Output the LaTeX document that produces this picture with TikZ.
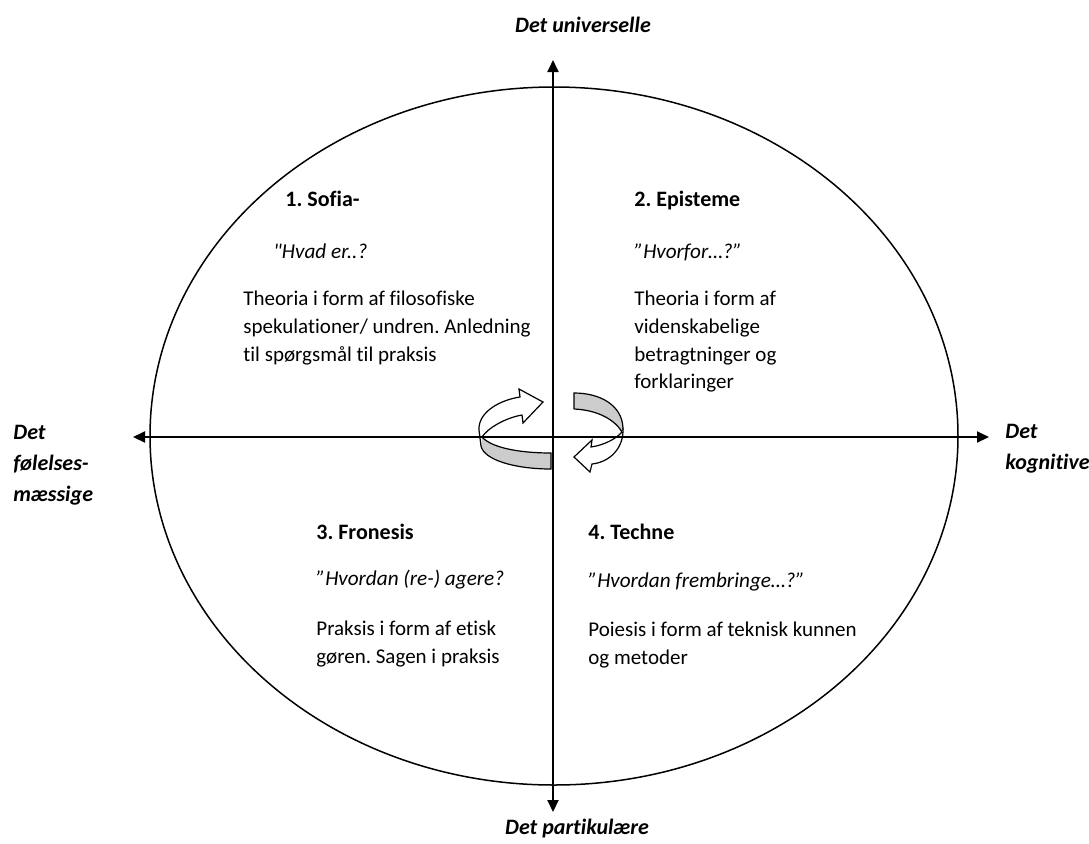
\documentclass[tikz,border=0pt]{standalone}
\usepackage{fontspec}
\setmainfont{Carlito}[Ligatures={TeX,NoCommon}]
\usetikzlibrary{arrows.meta}
\frenchspacing

\begin{document}
\begin{tikzpicture} [
       x=0.5pt, y=-0.5pt,
       titel/.style={anchor=base west, inner sep=0pt, font=\fontsize{11}{13.6}\selectfont\bfseries},
       spoerg/.style={anchor=base west, inner sep=0pt, font=\fontsize{10.6}{13.6}\selectfont\itshape},
       texte/.style={anchor=north west, inner sep=0pt, align=left, font=\fontsize{10.5}{13.8}\selectfont},
       pol/.style={inner sep=0pt, align=left, font=\fontsize{11}{15.5}\selectfont\bfseries\itshape},
       akse/.style={draw, line width=1pt, {Triangle[length=6pt,width=5.5pt]}-{Triangle[length=6pt,width=5.5pt]}},
       baand/.style={draw, line width=0.6pt, fill=black!20},
       pil/.style={draw, line width=0.6pt, fill=white, line join=miter},
       ]
       \useasboundingbox (0,0) rectangle (1089,843);
       % ellipse og akser
       \coordinate (midte) at (554,436);
       \draw[line width=0.75pt] (midte) ellipse [x radius=404, y radius=349];
       \coordinate (venstre) at (133,437);
       \coordinate (hoejre) at (989,437);
       \coordinate (top) at (553,60);
       \coordinate (bund) at (553,812);
       % de to drejende pile
       \path[baand] (482,437) .. controls (492,448) and (520,453) .. (551,453) -- (551,469)
             .. controls (515,469) and (484,460) .. (481,446);
       \path[pil] (481,446) -- (479,430) .. controls (478,412) and (500,400) .. (520,397)
             -- (519,389) -- (543,402) -- (523,423) -- (522,415)
             .. controls (505,418) and (488,428) .. (482,437);
       \path[baand] (574,409) -- (574,393) .. controls (600,393) and (622,405) .. (623,428)
             -- (622,432) .. controls (615,420) and (598,410) .. (574,409);
       \path[pil] (623,428) .. controls (624,448) and (610,462) .. (592,464)
             -- (590,472) -- (574,457) -- (592,440) -- (591,447)
             .. controls (605,445) and (617,438) .. (622,432);
       \begin{scope}[every path/.style=akse]
       \path (venstre) -- (hoejre);
       \path (bund) -- (top);
       \end{scope}
       % poler
       \node (univ) [pol] at (583,25) {Det universelle};
       \node (part) [pol] at (577,828) {Det partikulære};
       \node (foelelse) [pol, anchor=north west] at (13,425) {Det\\følelses-\\mæssige};
       \node (kognitiv) [pol, anchor=north west] at (1005,424) {Det\\kognitive};
       % 1. kvadrant
       \node (sofia) [titel] at (285,206) {1. Sofia-};
       \node (sofiasp) [spoerg] at (273,258) {\textquotedbl Hvad er..?};
       \node (sofiatx) [texte] at (243,291) {Theoria i form af filosofiske\\spekulationer/ undren. Anledning\\til spørgsmål til praksis};
       % 2. kvadrant
       \node (episteme) [titel] at (634,206) {2. Episteme};
       \node (epistemesp) [spoerg] at (634,258) {”Hvorfor…?”};
       \node (epistemetx) [texte] at (634,291) {Theoria i form af\\videnskabelige\\betragtninger og\\forklaringer};
       % 3. kvadrant
       \node (fronesis) [titel] at (316,539) {3. Fronesis};
       \node (fronesissp) [spoerg] at (316,585) {”Hvordan (re-) agere?};
       \node (fronesistx) [texte] at (316,621) {Praksis i form af etisk\\gøren. Sagen i praksis};
       % 4. kvadrant
       \node (techne) [titel] at (588,539) {4. Techne};
       \node (technesp) [spoerg] at (588,587) {”Hvordan frembringe…?”};
       \node (technetx) [texte] at (588,622) {Poiesis i form af teknisk kunnen\\og metoder};
\end{tikzpicture}
\end{document}
